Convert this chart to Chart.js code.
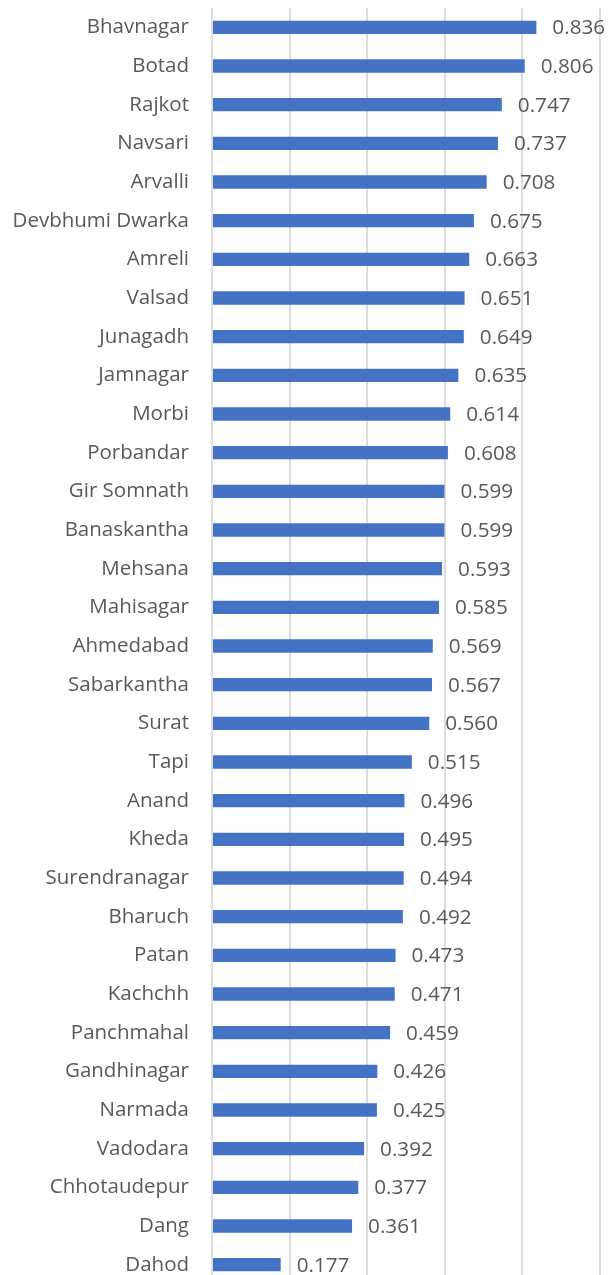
<!DOCTYPE html>
<html>
<head>
<meta charset="utf-8">
<script src="https://cdn.jsdelivr.net/npm/chart.js@4.4.1/dist/chart.umd.min.js"></script>
<style>
  html, body { margin:0; padding:0; background:#fff; overflow:hidden; }
  #wrap { position:relative; width:609px; height:1284px; }
</style>
</head>
<body>
<div id="wrap"><canvas id="c"></canvas></div>
<script>
// district names, top to bottom
const districts = ['Bhavnagar','Botad','Rajkot','Navsari','Arvalli','Devbhumi Dwarka','Amreli','Valsad',
  'Junagadh','Jamnagar','Morbi','Porbandar','Gir Somnath','Banaskantha','Mehsana','Mahisagar',
  'Ahmedabad','Sabarkantha','Surat','Tapi','Anand','Kheda','Surendranagar','Bharuch','Patan',
  'Kachchh','Panchmahal','Gandhinagar','Narmada','Vadodara','Chhotaudepur','Dang','Dahod'];
const scores = [0.836,0.806,0.747,0.737,0.708,0.675,0.663,0.651,0.649,0.635,0.614,0.608,0.599,0.599,
  0.593,0.585,0.569,0.567,0.560,0.515,0.496,0.495,0.494,0.492,0.473,0.471,0.459,0.426,0.425,
  0.392,0.377,0.361,0.177];
const axisMin = 0, axisMax = 1, axisStep = 0.2;

const TEXT = '#595959';

// value labels to the right of each bar
const valueLabels = {
  id:'valueLabels',
  afterDatasetsDraw(chart){
    const ctx = chart.ctx;
    const meta = chart.getDatasetMeta(0);
    ctx.save();
    ctx.font = '20.7px "Open Sans"';
    ctx.fillStyle = TEXT;
    ctx.textAlign = 'left';
    ctx.textBaseline = 'middle';
    meta.data.forEach((bar,i)=>{
      ctx.fillText(scores[i].toFixed(3), bar.x + 16, bar.y + 1);
    });
    ctx.restore();
  }
};

new Chart(document.getElementById('c'),{
  type:'bar',
  data:{
    labels:districts,
    datasets:[{data:scores, backgroundColor:'#4472C4', borderWidth:0,
      categoryPercentage:1, barPercentage:0.345}]
  },
  options:{
    indexAxis:'y',
    responsive:true, maintainAspectRatio:false, animation:false,
    layout:{padding:{top:8,right:9,bottom:0,left:0}},
    plugins:{legend:{display:false}, tooltip:{enabled:false}},
    scales:{
      x:{min:axisMin,max:axisMax,
        ticks:{display:false,stepSize:axisStep},
        grid:{color:'#dcdcdc',lineWidth:2,drawTicks:false},
        border:{display:false},
        afterFit(s){ s.height = 0; s.paddingLeft = 0; s.paddingRight = 0; }},
      y:{
        ticks:{color:TEXT,padding:23,font:{family:'"Open Sans"',size:20.5}},
        grid:{display:false,drawTicks:false},
        border:{display:false},
        afterFit(s){ s.width = 212; s.paddingTop = 0; s.paddingBottom = 0; }
      }
    }
  },
  plugins:[valueLabels]
});
</script>
</body>
</html>
